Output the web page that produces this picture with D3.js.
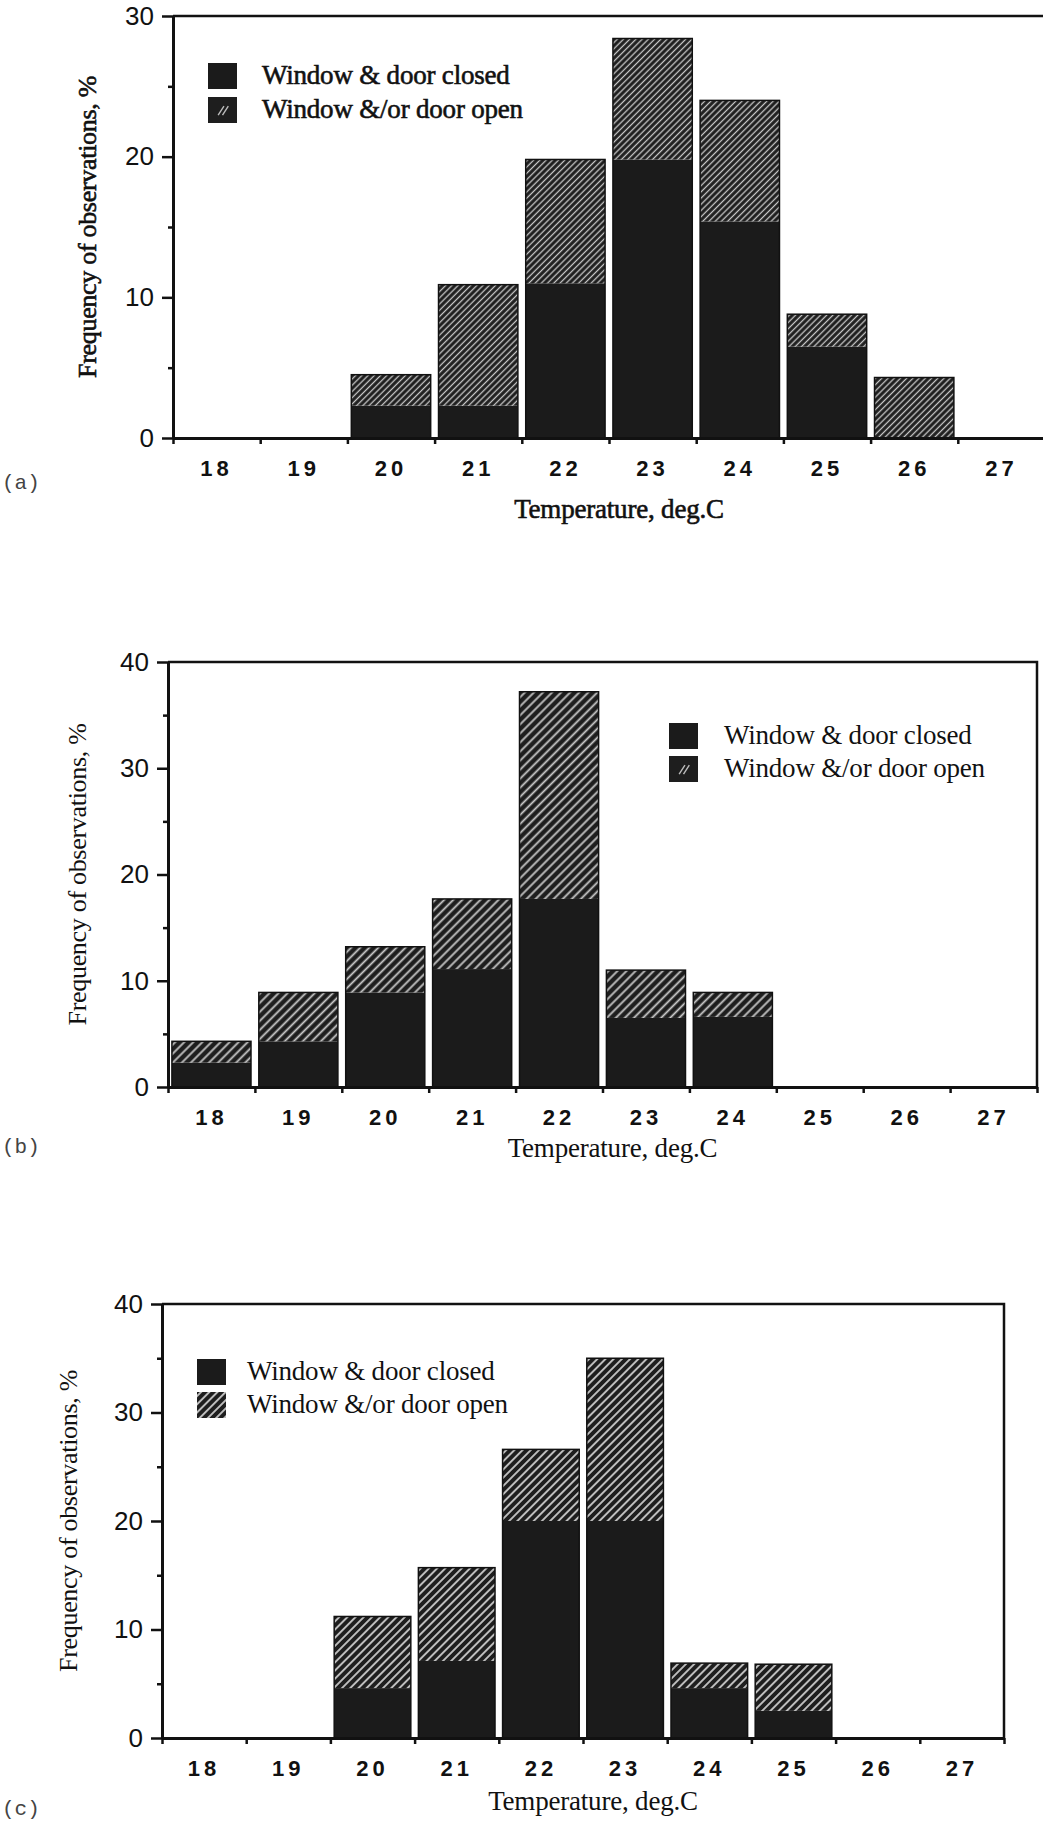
<!DOCTYPE html>
<html>
<head>
<meta charset="utf-8">
<script src="https://cdn.jsdelivr.net/npm/d3@7"></script>
<style>
  body { margin: 0; background: #fff; }
  svg { display: block; }
</style>
</head>
<body>
<script>
// temperature bins, deg.C
const temps = [18, 19, 20, 21, 22, 23, 24, 25, 26, 27]

// (a) frequency of observations, %
const closedA = [0, 0, 2.3, 2.3, 11.0, 19.8, 15.4, 6.5, 0, 0]
const openA = [0, 0, 2.2, 8.6, 8.8, 8.6, 8.6, 2.3, 4.3, 0]

// (b)
const closedB = [2.3, 4.3, 8.9, 11.1, 17.7, 6.5, 6.6, 0, 0, 0]
const openB = [2.0, 4.6, 4.3, 6.6, 19.5, 4.5, 2.3, 0, 0, 0]

// (c)
const closedC = [0, 0, 4.6, 7.1, 20.0, 20.0, 4.6, 2.5, 0, 0]
const openC = [0, 0, 6.6, 8.6, 6.6, 15.0, 2.3, 4.3, 0, 0]

const yTicksA = [0, 10, 20, 30]
const yMinorA = [5, 15, 25]
const yTicksBC = [0, 10, 20, 30, 40]
const yMinorBC = [5, 15, 25, 35]

const legendLabels = ["Window & door closed", "Window &/or door open"]
const xTitle = "Temperature, deg.C"
const yTitle = "Frequency of observations, %"

const serif = "'Liberation Serif', 'Times New Roman', serif"
const sans = "'Liberation Sans', Arial, sans-serif"
const mono = "'Liberation Mono', 'Courier New', monospace"

const svg = d3.select("body").append("svg")
  .attr("width", 1043)
  .attr("height", 1826)

const defs = svg.append("defs")

function hatch(id, gap, width) {
  const p = defs.append("pattern")
    .attr("id", id)
    .attr("patternUnits", "userSpaceOnUse")
    .attr("width", gap)
    .attr("height", gap)
    .attr("patternTransform", "rotate(45)")
  p.append("rect").attr("width", gap).attr("height", gap).attr("fill", "#1e1e1e")
  p.append("line")
    .attr("x1", gap / 2).attr("x2", gap / 2)
    .attr("y1", 0).attr("y2", gap)
    .attr("stroke", "#c9c9c9")
    .attr("stroke-width", width)
}
hatch("hatchA", 4.4, 1.3)
hatch("hatchB", 6.4, 1.8)
hatch("hatchC", 5.8, 1.8)

const panels = [
  { label: "(a)", closed: closedA, open: openA, yMax: 30, ticks: yTicksA, minor: yMinorA,
    x0: 173, x1: 1045, yTop: 16, yZero: 438, hatch: "hatchA", yTitleOff: 77,
    legendX: 208, legendY: 63, rowStep: 34, textX: 262, labelY: 489, titleY: 518,
    solidSwatch: true, heavy: true },
  { label: "(b)", closed: closedB, open: openB, yMax: 40, ticks: yTicksBC, minor: yMinorBC,
    x0: 168, x1: 1037, yTop: 662, yZero: 1087, hatch: "hatchB", yTitleOff: 82,
    legendX: 669, legendY: 723, rowStep: 33, textX: 724, labelY: 1153, titleY: 1157,
    solidSwatch: true, heavy: false },
  { label: "(c)", closed: closedC, open: openC, yMax: 40, ticks: yTicksBC, minor: yMinorBC,
    x0: 162, x1: 1004, yTop: 1304, yZero: 1738, hatch: "hatchC", yTitleOff: 85,
    legendX: 197, legendY: 1359, rowStep: 33, textX: 247, labelY: 1815, titleY: 1810,
    solidSwatch: false, heavy: false }
]

panels.forEach(drawPanel)

function drawPanel(p) {
  const g = svg.append("g")

  const x = d3.scaleLinear().domain([17.5, 27.5]).range([p.x0, p.x1])
  const band = d3.scaleBand()
    .domain(temps)
    .range([p.x0, p.x1])
    .paddingInner(0.09)
    .paddingOuter(0.045)
  const y = d3.scaleLinear().domain([0, p.yMax]).range([p.yZero, p.yTop])

  const rows = temps.map((t, i) => ({ t, closed: p.closed[i], open: p.open[i] }))
  const series = d3.stack().keys(["closed", "open"])(rows)

  g.selectAll(".layer")
    .data(series)
    .enter()
    .append("g")
    .attr("fill", (s) => (s.key === "closed" ? "#1b1b1b" : `url(#${p.hatch})`))
    .selectAll("rect")
    .data((s) => s.filter((d) => d[1] > d[0]))
    .enter()
    .append("rect")
    .attr("x", (d) => band(d.data.t))
    .attr("width", band.bandwidth())
    .attr("y", (d) => y(d[1]))
    .attr("height", (d) => y(d[0]) - y(d[1]))

  // outline of each whole bar
  g.selectAll(".outline")
    .data(rows.filter((d) => d.closed + d.open > 0))
    .enter()
    .append("rect")
    .attr("x", (d) => band(d.t))
    .attr("width", band.bandwidth())
    .attr("y", (d) => y(d.closed + d.open))
    .attr("height", (d) => p.yZero - y(d.closed + d.open))
    .attr("fill", "none")
    .attr("stroke", "#111")
    .attr("stroke-width", 1.5)

  // frame: top and right
  g.append("path")
    .attr("d", `M${p.x0},${p.yTop}H${p.x1}V${p.yZero}`)
    .attr("fill", "none")
    .attr("stroke", "#111")
    .attr("stroke-width", 2.5)

  // x axis with ticks at bin edges
  const xAxis = g.append("g")
    .attr("transform", `translate(0,${p.yZero})`)
    .call(d3.axisBottom(x).tickValues(d3.range(17.5, 28, 1)).tickSize(6).tickSizeOuter(0).tickFormat(""))
  xAxis.select(".domain").attr("stroke", "#111").attr("stroke-width", 3)
  xAxis.selectAll(".tick line").attr("stroke", "#111").attr("stroke-width", 2.5)

  const xLabels = g.append("g")
    .attr("transform", `translate(0,${p.yZero})`)
    .call(d3.axisBottom(band).tickSize(0).tickPadding(22))
  xLabels.select(".domain").remove()
  xLabels.selectAll("text")
    .attr("font-family", sans)
    .attr("font-weight", "bold")
    .attr("font-size", 22)
    .attr("letter-spacing", 4)
    .attr("fill", "#111")

  // y axis
  const yAxis = g.append("g")
    .attr("transform", `translate(${p.x0},0)`)
    .call(d3.axisLeft(y).tickValues(p.ticks).tickSize(11).tickSizeOuter(0).tickPadding(8))
  yAxis.select(".domain").attr("stroke", "#111").attr("stroke-width", 3)
  yAxis.selectAll(".tick line").attr("stroke", "#111").attr("stroke-width", 2.5)
  yAxis.selectAll("text")
    .attr("font-family", sans)
    .attr("font-size", 26)
    .attr("fill", "#111")

  const yMinor = g.append("g")
    .attr("transform", `translate(${p.x0},0)`)
    .call(d3.axisLeft(y).tickValues(p.minor).tickSize(5).tickFormat(""))
  yMinor.select(".domain").remove()
  yMinor.selectAll(".tick line").attr("stroke", "#111").attr("stroke-width", 2.5)

  // titles
  const textStroke = p.heavy ? 0.6 : 0
  g.append("text")
    .attr("x", (p.x0 + p.x1) / 2 + 10)
    .attr("y", p.titleY)
    .attr("text-anchor", "middle")
    .attr("font-family", serif)
    .attr("font-size", 27)
    .attr("letter-spacing", -0.2)
    .attr("fill", "#111")
    .attr("stroke", "#111")
    .attr("stroke-width", textStroke)
    .text(xTitle)

  g.append("text")
    .attr("transform", `translate(${p.x0 - p.yTitleOff},${(p.yTop + p.yZero) / 2}) rotate(-90)`)
    .attr("text-anchor", "middle")
    .attr("font-family", serif)
    .attr("font-size", 26)
    .attr("letter-spacing", -0.3)
    .attr("fill", "#111")
    .attr("stroke", "#111")
    .attr("stroke-width", textStroke)
    .text(yTitle)

  g.append("text")
    .attr("x", 2)
    .attr("y", p.labelY)
    .attr("font-family", mono)
    .attr("font-size", 21)
    .attr("fill", "#444")
    .text(p.label)

  // legend
  const leg = g.append("g").attr("transform", `translate(${p.legendX},${p.legendY})`)
  const swatchW = 29
  const swatchH = 26
  leg.append("rect")
    .attr("width", swatchW).attr("height", swatchH)
    .attr("fill", "#1b1b1b")
  const sw = leg.append("g").attr("transform", `translate(0,${p.rowStep})`)
  if (p.solidSwatch) {
    sw.append("rect").attr("width", swatchW).attr("height", swatchH).attr("fill", "#1e1e1e")
    sw.append("path")
      .attr("d", `M${swatchW * 0.35},${swatchH * 0.7}L${swatchW * 0.55},${swatchH * 0.35}M${swatchW * 0.5},${swatchH * 0.7}L${swatchW * 0.7},${swatchH * 0.35}`)
      .attr("stroke", "#bbb")
      .attr("stroke-width", 1.4)
  } else {
    sw.append("rect").attr("width", swatchW).attr("height", swatchH).attr("fill", `url(#${p.hatch})`)
  }
  leg.selectAll("text")
    .data(legendLabels)
    .enter()
    .append("text")
    .attr("x", p.textX - p.legendX)
    .attr("y", (d, i) => i * p.rowStep + 21)
    .attr("font-family", serif)
    .attr("font-size", 27)
    .attr("letter-spacing", -0.2)
    .attr("fill", "#111")
    .attr("stroke", "#111")
    .attr("stroke-width", textStroke)
    .text((d) => d)
}
</script>
</body>
</html>
